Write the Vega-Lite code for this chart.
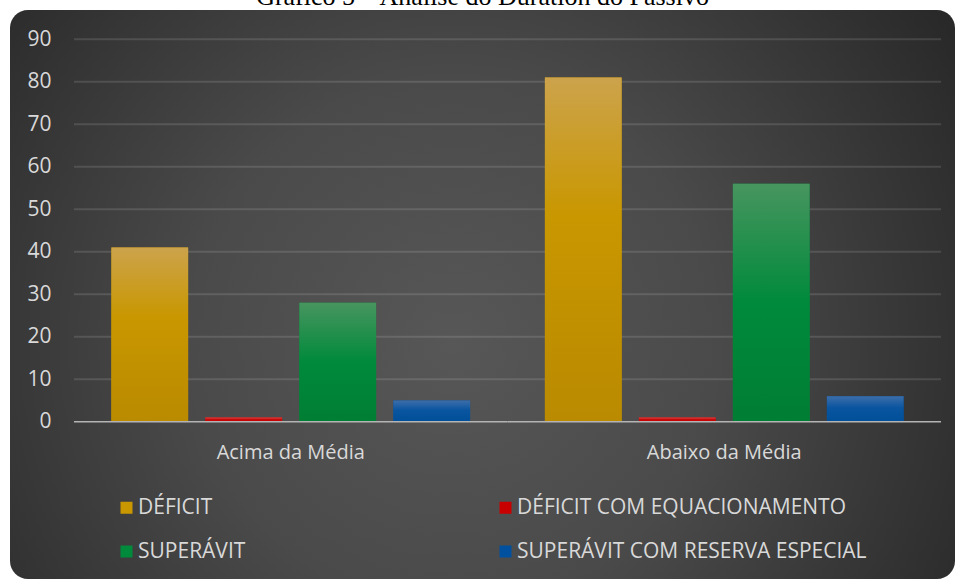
{
  "$schema": "https://vega.github.io/schema/vega-lite/v6.json",
  "autosize": "none",
  "width": 945,
  "height": 569,
  "padding": {"left": 10, "top": 10, "right": 0, "bottom": 0},
  "background": "white",
  "title": {
    "text": "Gráfico 5 – Análise do Duration do Passivo",
    "font": "Liberation Serif",
    "fontSize": 26,
    "fontWeight": "normal",
    "color": "black",
    "anchor": "middle",
    "offset": 0
  },
  "datasets": {
    "bars": [
      {"grupo": "Acima da Média", "serie": "DÉFICIT", "valor": 41},
      {"grupo": "Acima da Média", "serie": "DÉFICIT COM EQUACIONAMENTO", "valor": 1},
      {"grupo": "Acima da Média", "serie": "SUPERÁVIT", "valor": 28},
      {"grupo": "Acima da Média", "serie": "SUPERÁVIT COM RESERVA ESPECIAL", "valor": 5},
      {"grupo": "Abaixo da Média", "serie": "DÉFICIT", "valor": 81},
      {"grupo": "Abaixo da Média", "serie": "DÉFICIT COM EQUACIONAMENTO", "valor": 1},
      {"grupo": "Abaixo da Média", "serie": "SUPERÁVIT", "valor": 56},
      {"grupo": "Abaixo da Média", "serie": "SUPERÁVIT COM RESERVA ESPECIAL", "valor": 6}
    ],
    "grid": [
      {"grupo": "Acima da Média", "v": 10}, {"grupo": "Abaixo da Média", "v": 10},
      {"grupo": "Acima da Média", "v": 20}, {"grupo": "Abaixo da Média", "v": 20},
      {"grupo": "Acima da Média", "v": 30}, {"grupo": "Abaixo da Média", "v": 30},
      {"grupo": "Acima da Média", "v": 40}, {"grupo": "Abaixo da Média", "v": 40},
      {"grupo": "Acima da Média", "v": 50}, {"grupo": "Abaixo da Média", "v": 50},
      {"grupo": "Acima da Média", "v": 60}, {"grupo": "Abaixo da Média", "v": 60},
      {"grupo": "Acima da Média", "v": 70}, {"grupo": "Abaixo da Média", "v": 70},
      {"grupo": "Acima da Média", "v": 80}, {"grupo": "Abaixo da Média", "v": 80},
      {"grupo": "Acima da Média", "v": 90}, {"grupo": "Abaixo da Média", "v": 90}
    ],
    "base": [
      {"grupo": "Acima da Média", "v": 0}, {"grupo": "Abaixo da Média", "v": 0}
    ],
    "fundo": [{"painel": "fundo"}]
  },
  "layer": [
    {
      "data": {"name": "fundo"},
      "mark": {
        "type": "rect",
        "cornerRadius": 18,
        "color": {
          "gradient": "radial",
          "x1": 0.47, "y1": 0.55, "r1": 0,
          "x2": 0.47, "y2": 0.55, "r2": 0.62,
          "stops": [
            {"offset": 0, "color": "#575757"},
            {"offset": 0.45, "color": "#4a4a4a"},
            {"offset": 1, "color": "#292929"}
          ]
        }
      },
      "encoding": {}
    },
    {
      "data": {"name": "grid"},
      "mark": {"type": "rect", "fill": null, "stroke": "#ffffff", "strokeOpacity": 0.12, "strokeWidth": 2},
      "encoding": {
        "x": {
          "field": "grupo", "type": "nominal",
          "sort": ["Acima da Média", "Abaixo da Média"],
          "scale": {"domain": ["Acima da Média", "Abaixo da Média"], "paddingInner": 0, "paddingOuter": 0.08997, "align": 0.8205},
          "axis": {
            "title": null, "orient": "bottom", "offset": -157.3, "domain": false, "ticks": false, "tickSize": 0,
            "labelPadding": 37, "labelBaseline": "alphabetic", "labelFont": "Open Sans", "labelFontSize": 20,
            "labelColor": "#d9d9d9", "labelAngle": 0, "grid": false, "zindex": 2
          }
        },
        "y": {
          "field": "v", "type": "quantitative",
          "scale": {"domain": [-37.01, 96.87], "nice": false, "zero": false},
          "axis": {
            "title": null, "orient": "left", "offset": -64, "domain": false, "ticks": false, "tickSize": 0,
            "values": [0, 10, 20, 30, 40, 50, 60, 70, 80, 90], "grid": false,
            "labelPadding": 23, "labelFont": "Open Sans", "labelFontSize": 21, "labelColor": "#d9d9d9",
            "labelBaseline": "middle", "labelOverlap": false, "labelFlush": false, "zindex": 2
          }
        },
        "y2": {"field": "v"}
      }
    },
    {
      "data": {"name": "bars"},
      "mark": {"type": "bar"},
      "encoding": {
        "x": {"field": "grupo", "type": "nominal", "sort": ["Acima da Média", "Abaixo da Média"]},
        "xOffset": {
          "field": "serie", "type": "nominal",
          "scale": {"domain": ["DÉFICIT", "DÉFICIT COM EQUACIONAMENTO", "SUPERÁVIT", "SUPERÁVIT COM RESERVA ESPECIAL"], "paddingInner": 0.184, "paddingOuter": 0.398}
        },
        "y": {"field": "valor", "type": "quantitative"},
        "y2": {"datum": 0},
        "color": {
          "field": "serie", "type": "nominal",
          "scale": {
            "domain": ["DÉFICIT", "DÉFICIT COM EQUACIONAMENTO", "SUPERÁVIT", "SUPERÁVIT COM RESERVA ESPECIAL"],
            "range": ["#c99700", "#c80000", "#008a3b", "#0050a0"]
          },
          "legend": {
            "orient": "none",
            "direction": "horizontal",
            "legendX": 106,
            "legendY": 487,
            "columns": 2,
            "columnPadding": 249,
            "rowPadding": 22,
            "title": null,
            "symbolType": "square",
            "symbolSize": 144,
            "symbolStrokeWidth": 0,
            "symbolOpacity": 1,
            "labelFont": "Open Sans",
            "labelFontSize": 21,
            "labelColor": "#d9d9d9",
            "labelOffset": 1,
            "labelLimit": 500
          }
        }
      }
    },
    {
      "data": {"name": "bars"},
      "transform": [{"filter": "datum.serie === 'DÉFICIT'"}],
      "mark": {"type": "bar", "color": {"gradient": "linear", "x1": 0, "y1": 0, "x2": 0, "y2": 1, "stops": [{"offset": 0, "color": "#cca34c"}, {"offset": 0.4, "color": "#c99700"}, {"offset": 1, "color": "#ba8a00"}]}},
      "encoding": {
        "x": {"field": "grupo", "type": "nominal", "sort": ["Acima da Média", "Abaixo da Média"]},
        "xOffset": {"field": "serie", "type": "nominal", "scale": {"domain": ["DÉFICIT", "DÉFICIT COM EQUACIONAMENTO", "SUPERÁVIT", "SUPERÁVIT COM RESERVA ESPECIAL"], "paddingInner": 0.184, "paddingOuter": 0.398}},
        "y": {"field": "valor", "type": "quantitative"},
        "y2": {"datum": 0}
      }
    },
    {
      "data": {"name": "bars"},
      "transform": [{"filter": "datum.serie === 'DÉFICIT COM EQUACIONAMENTO'"}],
      "mark": {"type": "bar", "color": {"gradient": "linear", "x1": 0, "y1": 0, "x2": 0, "y2": 1, "stops": [{"offset": 0, "color": "#dc4646"}, {"offset": 0.5, "color": "#c80808"}, {"offset": 1, "color": "#c00000"}]}},
      "encoding": {
        "x": {"field": "grupo", "type": "nominal", "sort": ["Acima da Média", "Abaixo da Média"]},
        "xOffset": {"field": "serie", "type": "nominal", "scale": {"domain": ["DÉFICIT", "DÉFICIT COM EQUACIONAMENTO", "SUPERÁVIT", "SUPERÁVIT COM RESERVA ESPECIAL"], "paddingInner": 0.184, "paddingOuter": 0.398}},
        "y": {"field": "valor", "type": "quantitative"},
        "y2": {"datum": 0}
      }
    },
    {
      "data": {"name": "bars"},
      "transform": [{"filter": "datum.serie === 'SUPERÁVIT'"}],
      "mark": {"type": "bar", "color": {"gradient": "linear", "x1": 0, "y1": 0, "x2": 0, "y2": 1, "stops": [{"offset": 0, "color": "#47955f"}, {"offset": 0.5, "color": "#008a3b"}, {"offset": 1, "color": "#007e33"}]}},
      "encoding": {
        "x": {"field": "grupo", "type": "nominal", "sort": ["Acima da Média", "Abaixo da Média"]},
        "xOffset": {"field": "serie", "type": "nominal", "scale": {"domain": ["DÉFICIT", "DÉFICIT COM EQUACIONAMENTO", "SUPERÁVIT", "SUPERÁVIT COM RESERVA ESPECIAL"], "paddingInner": 0.184, "paddingOuter": 0.398}},
        "y": {"field": "valor", "type": "quantitative"},
        "y2": {"datum": 0}
      }
    },
    {
      "data": {"name": "bars"},
      "transform": [{"filter": "datum.serie === 'SUPERÁVIT COM RESERVA ESPECIAL'"}],
      "mark": {"type": "bar", "color": {"gradient": "linear", "x1": 0, "y1": 0, "x2": 0, "y2": 1, "stops": [{"offset": 0, "color": "#3d6ea9"}, {"offset": 0.45, "color": "#0a55a0"}, {"offset": 1, "color": "#004f98"}]}},
      "encoding": {
        "x": {"field": "grupo", "type": "nominal", "sort": ["Acima da Média", "Abaixo da Média"]},
        "xOffset": {"field": "serie", "type": "nominal", "scale": {"domain": ["DÉFICIT", "DÉFICIT COM EQUACIONAMENTO", "SUPERÁVIT", "SUPERÁVIT COM RESERVA ESPECIAL"], "paddingInner": 0.184, "paddingOuter": 0.398}},
        "y": {"field": "valor", "type": "quantitative"},
        "y2": {"datum": 0}
      }
    },
    {
      "data": {"name": "base"},
      "mark": {"type": "rect", "fill": null, "stroke": "#b4b4b4", "strokeWidth": 1.5},
      "encoding": {
        "x": {"field": "grupo", "type": "nominal", "sort": ["Acima da Média", "Abaixo da Média"]},
        "y": {"field": "v", "type": "quantitative"},
        "y2": {"field": "v"}
      }
    }
  ],
  "config": {
    "view": {"stroke": null},
    "axis": {"labelFont": "Open Sans"}
  }
}
